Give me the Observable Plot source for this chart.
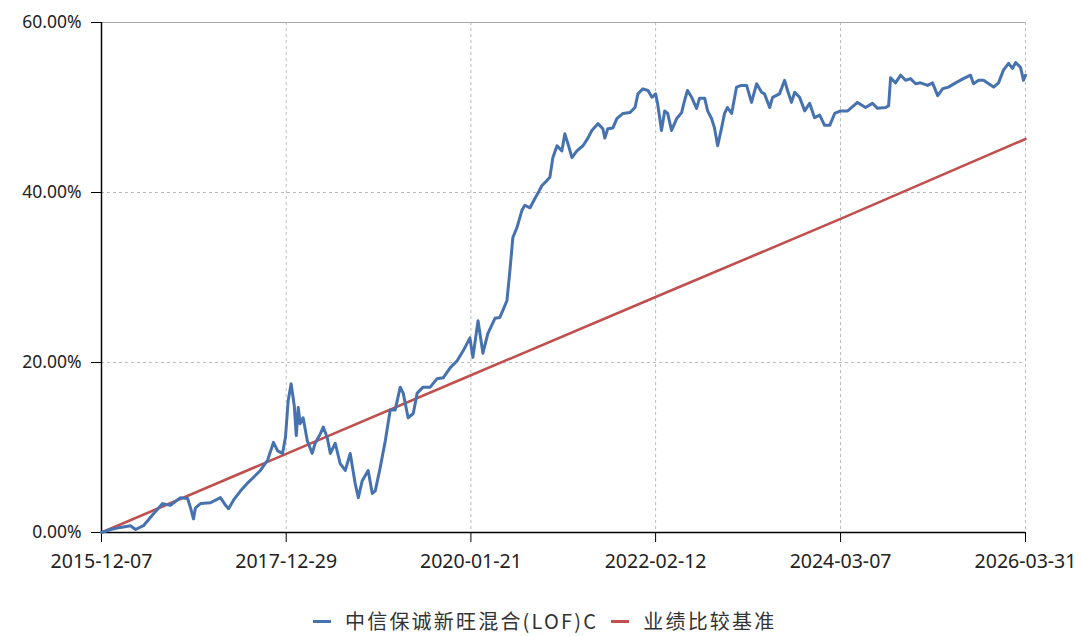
<!DOCTYPE html>
<html>
<head>
<meta charset="utf-8">
<script src="https://cdn.jsdelivr.net/npm/d3@7"></script>
<script src="https://cdn.jsdelivr.net/npm/@observablehq/plot@0.6"></script>
<style>
  html, body { margin: 0; padding: 0; background: #fff; }
  #chart { width: 1082px; height: 636px; }
  #chart svg { display: block; }
  .legend { margin-top: 29px; padding-left: 313px; height: 24px; display: flex; align-items: center; white-space: nowrap;
    font-family: "Noto Sans CJK SC", "Noto Sans", sans-serif; font-size: 20px; line-height: 24px; letter-spacing: 2.2px; color: #333; }
  .legend span.item { display: inline-flex; align-items: center; margin-right: 13px; }
  .legend span.sw { display: inline-block; width: 18px; height: 3px; margin-right: 14px; }
</style>
</head>
<body>
<div id="chart"></div>
<script>
const fundName = "中信保诚新旺混合(LOF)C";
const benchName = "业绩比较基准";

const fundDates = [
"2015-12-07","2016-01-13","2016-02-22","2016-04-03","2016-04-24","2016-05-26","2016-07-06","2016-08-12","2016-09-13","2016-10-24",
"2016-11-22","2016-12-04","2016-12-16","2016-12-24","2017-01-14","2017-02-23","2017-04-05","2017-04-26","2017-05-08","2017-05-28",
"2017-06-26","2017-07-24","2017-08-18","2017-09-15","2017-10-14","2017-11-07","2017-11-24","2017-12-14","2017-12-26","2018-01-06",
"2018-01-18","2018-01-31","2018-02-08","2018-02-16","2018-02-24","2018-03-08","2018-03-25","2018-04-14","2018-04-26","2018-05-17",
"2018-05-29","2018-06-14","2018-06-27","2018-07-17","2018-08-06","2018-08-27","2018-09-16","2018-10-06","2018-10-19","2018-11-04",
"2018-11-28","2018-12-15","2018-12-27","2019-01-16","2019-02-06","2019-02-26","2019-03-18","2019-04-08","2019-04-20","2019-05-10",
"2019-05-31","2019-06-16","2019-07-10","2019-08-08","2019-09-05","2019-09-30","2019-10-29","2019-11-26","2019-12-21","2020-01-17",
"2020-01-29","2020-02-19","2020-03-10","2020-03-30","2020-04-28","2020-05-18","2020-05-30","2020-06-16","2020-06-28","2020-07-10",
"2020-07-27","2020-08-16","2020-08-28","2020-09-18","2020-10-08","2020-10-20","2020-11-05","2020-11-26","2020-12-08","2020-12-20",
"2021-01-06","2021-01-26","2021-02-07","2021-02-19","2021-03-08","2021-03-28","2021-04-22","2021-05-12","2021-05-28","2021-06-22",
"2021-07-12","2021-07-20","2021-08-01","2021-08-22","2021-09-07","2021-10-02","2021-10-30","2021-11-20","2021-12-02","2021-12-22",
"2022-01-12","2022-01-28","2022-02-12","2022-02-20","2022-03-08","2022-03-21","2022-04-02","2022-04-18","2022-05-09","2022-05-29",
"2022-06-10","2022-06-22","2022-07-09","2022-07-29","2022-08-10","2022-08-31","2022-09-12","2022-09-28","2022-10-10","2022-10-23",
"2022-11-08","2022-11-20","2022-12-02","2022-12-19","2023-01-08","2023-01-28","2023-02-18","2023-03-10","2023-03-31","2023-04-20",
"2023-05-02","2023-05-23","2023-06-04","2023-07-02","2023-07-23","2023-08-04","2023-08-20","2023-09-02","2023-09-22","2023-10-13",
"2023-11-02","2023-11-22","2023-12-13","2024-01-02","2024-01-23","2024-02-12","2024-03-07","2024-04-05","2024-05-15","2024-06-17",
"2024-07-15","2024-08-05","2024-09-07","2024-09-19","2024-09-27","2024-10-17","2024-11-07","2024-11-27","2024-12-17","2025-01-07",
"2025-01-27","2025-02-25","2025-03-17","2025-04-07","2025-04-27","2025-05-21","2025-06-19","2025-07-21","2025-08-19","2025-08-31",
"2025-09-21","2025-10-11","2025-11-01","2025-11-21","2025-12-11","2025-12-31","2026-01-21","2026-02-06","2026-02-19","2026-03-11",
"2026-03-23","2026-03-31"
];
const fundValues = [
0.00,0.35,0.60,0.80,0.35,0.80,2.2,3.4,3.2,4.1,
4.0,2.9,1.6,2.9,3.4,3.5,4.1,3.2,2.8,3.8,
4.9,5.8,6.5,7.3,8.5,10.6,9.6,9.3,11.2,15.5,
17.5,14.9,11.4,14.7,12.8,13.5,10.8,9.3,10.5,11.6,
12.4,11.2,9.3,10.5,8.1,7.3,9.3,5.8,4.1,6.1,
7.3,4.6,4.9,7.6,10.8,14.4,14.4,17.1,16.4,13.5,
14.0,16.4,17.1,17.1,18.1,18.2,19.4,20.2,21.4,22.9,
20.6,24.9,21.1,23.4,25.2,25.3,26.1,27.3,30.8,34.7,
35.9,37.9,38.5,38.2,39.3,39.9,40.8,41.4,41.8,44.1,
45.5,44.9,46.9,45.8,44.1,44.9,45.5,46.4,47.3,48.1,
47.5,46.4,47.5,47.6,48.7,49.3,49.4,50.0,51.6,52.2,
52.0,51.2,51.6,50.5,47.3,49.6,49.3,47.3,48.7,49.4,
50.8,52.0,51.2,49.9,51.1,51.1,49.6,48.7,47.6,45.5,
47.6,49.3,50.0,49.3,52.4,52.6,52.6,50.6,52.8,51.8,
51.6,50.0,51.2,51.6,53.2,52.0,50.6,51.8,51.2,49.6,
50.5,48.8,49.1,47.9,47.9,49.3,49.6,49.6,50.6,50.0,
50.5,49.9,50.0,50.2,53.5,52.9,53.8,53.2,53.4,52.8,
52.9,52.6,52.9,51.4,52.2,52.4,52.9,53.4,53.8,52.8,
53.2,53.2,52.8,52.4,52.9,54.4,55.2,54.6,55.3,54.7,
53.2,53.8
];

const benchDates = ["2015-12-07","2017-12-29","2020-01-21","2022-02-12","2024-03-07","2026-03-31"];
const benchValues = [0.00, 9.25, 18.5, 27.7, 36.9, 46.3];

const xTickLabels = ["2015-12-07","2017-12-29","2020-01-21","2022-02-12","2024-03-07","2026-03-31"];
const yTicks = [0, 20, 40, 60];

const parse = d3.utcParse("%Y-%m-%d");
const fund = fundDates.map((d, i) => ({date: parse(d), value: fundValues[i], series: fundName}));
const bench = benchDates.map((d, i) => ({date: parse(d), value: benchValues[i], series: benchName}));
const xTicks = xTickLabels.map(parse);
const fmt = d3.utcFormat("%Y-%m-%d");

const blue = "#4672b0";
const red = "#c0504d";

const chart = Plot.plot({
  width: 1082,
  height: 580,
  marginLeft: 101,
  marginRight: 57,
  marginTop: 22,
  marginBottom: 48,
  style: {fontFamily: "'Noto Sans', 'Noto Sans CJK SC', sans-serif", fontSize: "16px", color: "#333", background: "#fff", overflow: "visible"},
  x: {type: "utc", domain: [xTicks[0], xTicks[xTicks.length - 1]]},
  y: {domain: [0, 60]},
  marks: [
    Plot.gridX(xTicks.slice(1), {stroke: "#bbb", strokeOpacity: 1, strokeDasharray: "3,3", strokeWidth: 1}),
    Plot.gridY([20, 40], {stroke: "#bbb", strokeOpacity: 1, strokeDasharray: "3,3", strokeWidth: 1}),
    Plot.gridY([60], {stroke: "#aaa", strokeOpacity: 1, strokeWidth: 1}),
    Plot.axisX(xTicks, {tickFormat: fmt, tickSize: 10, tickPadding: 12, stroke: "#000", fill: "#222", label: null, fontSize: 19.5}),
    Plot.axisY(yTicks, {tickFormat: d => d.toFixed(2) + "%", tickSize: 10, tickPadding: 10, stroke: "#000", fill: "#222", label: null, fontSize: 17.5}),
    Plot.ruleX([xTicks[0]], {stroke: "#000", strokeWidth: 1.5}),
    Plot.ruleY([0], {stroke: "#000", strokeWidth: 1.5}),
    Plot.line(bench, {x: "date", y: "value", stroke: red, strokeWidth: 2.6}),
    Plot.line(fund, {x: "date", y: "value", stroke: blue, strokeWidth: 3, strokeLinejoin: "round"})
  ]
});
document.getElementById("chart").appendChild(chart);

const legend = document.createElement("div");
legend.className = "legend";
[[fundName, blue], [benchName, red]].forEach(([name, color]) => {
  const item = document.createElement("span");
  item.className = "item";
  const sw = document.createElement("span");
  sw.className = "sw";
  sw.style.background = color;
  item.appendChild(sw);
  item.appendChild(document.createTextNode(name));
  legend.appendChild(item);
});
document.getElementById("chart").appendChild(legend);
</script>
</body>
</html>
